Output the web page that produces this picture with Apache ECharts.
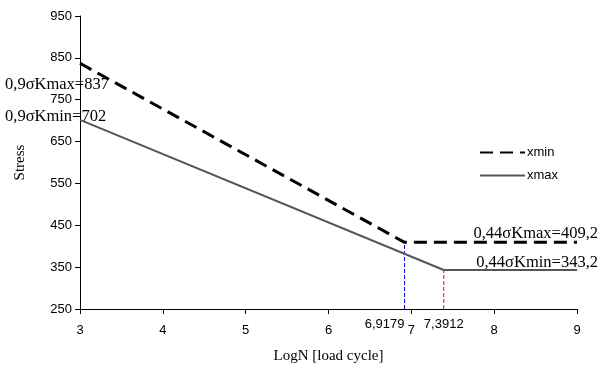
<!DOCTYPE html>
<html>
<head>
<meta charset="utf-8">
<script src="https://cdn.jsdelivr.net/npm/echarts@6/dist/echarts.min.js"></script>
<style>
  html, body { margin: 0; padding: 0; background: #fff; }
  #chart { width: 599px; height: 374px; }
</style>
</head>
<body>
<div id="chart"></div>
<script>
// 曲线数据
const xminPoints = [[3, 837], [6.9179, 409.2], [9, 409.2]]
const xmaxPoints = [[3, 702], [7.3912, 343.2], [9, 343.2]]
// 拐点
const kneeX = [6.9179, 7.3912]
const kneeLabels = ['6,9179', '7,3912']
const annotations = ['0,9σKmax=837', '0,9σKmin=702', '0,44σKmax=409,2', '0,44σKmin=343,2']

const chart = echarts.init(document.getElementById('chart'))
const serif = '"Liberation Serif", "DejaVu Serif", serif'
const sans = '"Liberation Sans", Arial, sans-serif'

const option = {
  animation: false,
  grid: { left: 80, right: 22, top: 16, bottom: 65 },
  legend: {
    orient: 'vertical',
    left: 474,
    top: 141,
    itemWidth: 45,
    itemHeight: 10,
    itemGap: 10,
    itemStyle: { opacity: 0 },
    textStyle: { fontFamily: sans, fontSize: 13, color: '#000', padding: [0, 0, 0, -3] },
    data: ['xmin', 'xmax']
  },
  xAxis: {
    type: 'value',
    min: 3,
    max: 9,
    interval: 1,
    name: 'LogN [load cycle]',
    nameLocation: 'middle',
    nameGap: 40,
    nameTextStyle: { fontFamily: serif, fontSize: 15, color: '#000' },
    axisLine: { lineStyle: { color: '#000', width: 1 } },
    axisTick: { show: true, length: 5, lineStyle: { color: '#000' } },
    axisLabel: { color: '#000', fontFamily: sans, fontSize: 13, margin: 15 },
    splitLine: { show: false }
  },
  yAxis: {
    type: 'value',
    min: 250,
    max: 950,
    interval: 100,
    name: 'Stress',
    nameLocation: 'middle',
    nameGap: 52,
    nameTextStyle: { fontFamily: serif, fontSize: 15, color: '#000' },
    axisLine: { show: true, lineStyle: { color: '#000', width: 1 } },
    axisTick: { show: true, length: 5, lineStyle: { color: '#000' } },
    axisLabel: { color: '#000', fontFamily: sans, fontSize: 13, margin: 8 },
    splitLine: { show: false }
  },
  series: [
    {
      name: 'xmin',
      type: 'line',
      data: xminPoints,
      symbol: 'none',
      lineStyle: { color: '#000', width: 3, type: [13, 7] },
      itemStyle: { color: '#000' },
      z: 3
    },
    {
      name: 'xmax',
      type: 'line',
      data: xmaxPoints,
      symbol: 'none',
      lineStyle: { color: '#555', width: 2 },
      itemStyle: { color: '#555' },
      z: 3
    },
    {
      name: 'knee1',
      type: 'line',
      data: [[kneeX[0], 250], [kneeX[0], xminPoints[1][1]]],
      symbol: 'none',
      lineStyle: { color: '#0000ff', width: 1, type: [4, 2] },
      z: 2
    },
    {
      name: 'knee2',
      type: 'line',
      data: [[kneeX[1], 250], [kneeX[1], xmaxPoints[1][1]]],
      symbol: 'none',
      lineStyle: { color: '#ff0000', width: 1, type: [4, 2] },
      z: 2
    }
  ]
}
chart.setOption(option)

// 注释文字
const px = (x, y) => chart.convertToPixel({ gridIndex: 0 }, [x, y])
const yBase = px(3, 250)[1]
const txt = (text, x, y, align, font, size) => ({
  type: 'text', x, y,
  style: { text, fill: '#000', font: size + 'px ' + font, textAlign: align, textVerticalAlign: 'middle' }
})
chart.setOption({
  graphic: [
    txt(kneeLabels[0], px(kneeX[0], 250)[0], yBase + 15, 'right', sans, 13),
    txt(kneeLabels[1], px(kneeX[1], 250)[0], yBase + 15, 'center', sans, 13),
    txt(annotations[0], 5, px(3, 837)[1] + 21, 'left', serif, 16.5),
    txt(annotations[1], 5, px(3, 702)[1] - 3, 'left', serif, 16.5),
    txt(annotations[2], 598, px(9, 409.2)[1] - 9, 'right', serif, 16.5),
    txt(annotations[3], 598, px(9, 343.2)[1] - 7, 'right', serif, 16.5)
  ]
})
</script>
</body>
</html>
